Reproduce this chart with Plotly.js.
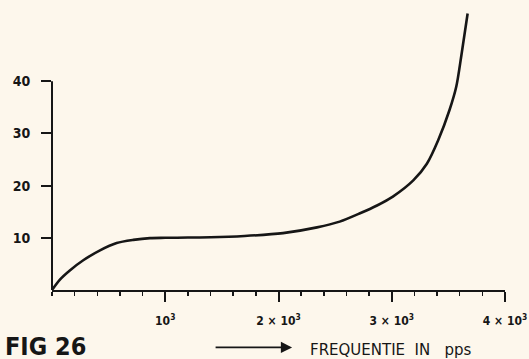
<!DOCTYPE html>
<html>
<head>
<meta charset="utf-8">
<script src="https://cdn.plot.ly/plotly-3.0.1.min.js"></script>
<style>
html,body{margin:0;padding:0;background:#fdf7ec;}
#chart{width:529px;height:359px;}
</style>
</head>
<body>
<div id="chart"></div>
<script>
// Frequency (pps) and response values
const freq = [0, 70, 160, 276, 424, 571, 718, 865, 1000, 1200, 1400, 1700, 2040, 2340, 2540, 2720, 2870, 3010, 3190, 3310, 3410, 3510, 3570, 3615, 3670];
const resp = [0, 2.0, 3.8, 5.7, 7.6, 9.0, 9.6, 9.95, 10.0, 10.05, 10.1, 10.35, 10.9, 12.0, 13.1, 14.7, 16.2, 17.9, 21.0, 24.2, 28.7, 34.5, 39.0, 45.0, 53.0];
const xTickVals = [1000, 2000, 3000, 4000];
const xTickText = ['10<sup>3</sup>', '2 × 10<sup>3</sup>', '3 × 10<sup>3</sup>', '4 × 10<sup>3</sup>'];
const yTickVals = [10, 20, 30, 40];
const yTickText = ['10', '20', '30', '40'];
const figLabel = 'FIG 26';
const xLabel = 'FREQUENTIE\u00a0\u00a0IN\u00a0\u00a0\u00a0pps';

const ink = '#161616';
const bg = '#fdf7ec';
const fontFam = '"DejaVu Sans Condensed", "DejaVu Sans", sans-serif';

const trace = {
  x: freq, y: resp, type: 'scatter', mode: 'lines',
  line: {color: ink, width: 2.6, shape: 'spline', smoothing: 0.8},
  hoverinfo: 'skip'
};

const layout = {
  width: 529, height: 359,
  margin: {l: 52, r: 24, t: 3, b: 69},
  paper_bgcolor: bg, plot_bgcolor: bg,
  showlegend: false,
  xaxis: {
    range: [0, 4000],
    showgrid: false, zeroline: false,
    showline: true, linecolor: ink, linewidth: 2,
    tickmode: 'array', tickvals: xTickVals, ticktext: xTickText,
    ticks: 'outside', ticklen: 10, tickwidth: 2, tickcolor: ink,
    ticklabelstandoff: 9,
    tickfont: {family: fontFam, size: 12, color: ink, weight: 'bold'},
    minor: {tick0: 0, dtick: 200, ticks: 'outside', ticklen: 4, tickwidth: 1.5, tickcolor: ink, showgrid: false}
  },
  yaxis: {
    range: [0, 55],
    showgrid: false, zeroline: false, showline: false,
    tickmode: 'array', tickvals: yTickVals, ticktext: yTickText,
    ticks: 'outside', ticklen: 10, tickwidth: 2, tickcolor: ink,
    ticklabelstandoff: 8,
    tickfont: {family: fontFam, size: 14, color: ink, weight: 'bold'}
  },
  shapes: [
    {type: 'line', xref: 'paper', yref: 'y', x0: 0, x1: 0, y0: 0, y1: yTickVals[yTickVals.length - 1],
     line: {color: ink, width: 2}}
  ],
  annotations: [
    {text: figLabel, xref: 'paper', yref: 'paper', x: -0.108, y: -0.138, xanchor: 'left', yanchor: 'top',
     showarrow: false, font: {family: fontFam, size: 25, color: ink, weight: 'bold'}},
    {text: xLabel, xref: 'paper', yref: 'paper', x: 0.566, y: -0.17, xanchor: 'left', yanchor: 'top',
     showarrow: false, font: {family: '"DejaVu Sans", sans-serif', size: 15, color: ink}},
    {text: '', xref: 'paper', yref: 'paper', x: 0.53, y: -0.2, axref: 'pixel', ayref: 'pixel', ax: -78, ay: 0,
     showarrow: true, arrowhead: 2, arrowsize: 1.4, arrowwidth: 1.6, arrowcolor: ink}
  ]
};

Plotly.newPlot('chart', [trace], layout, {staticPlot: true, displayModeBar: false});
</script>
</body>
</html>
